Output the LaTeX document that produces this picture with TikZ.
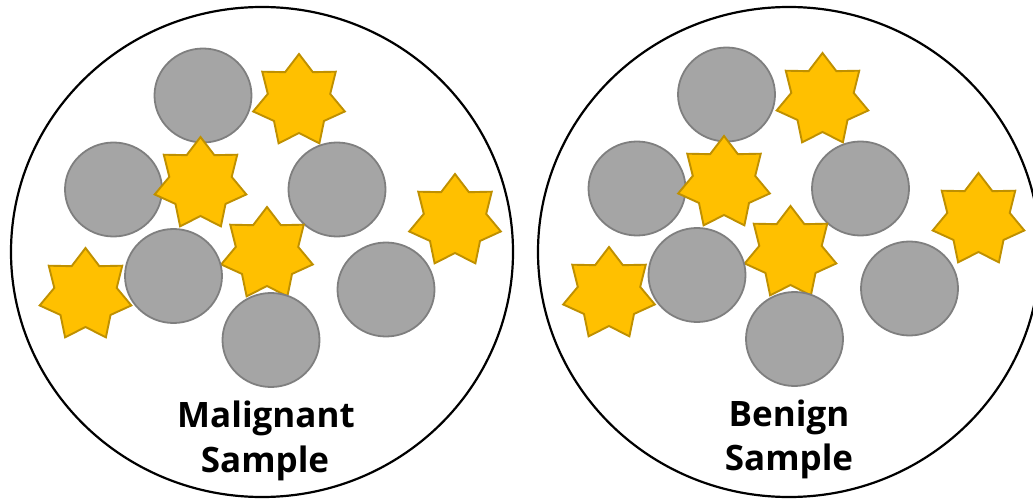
\documentclass[tikz,border=0pt]{standalone}
\usepackage{fontspec}
\newfontfamily\capfont{Open Sans}
\usetikzlibrary{shapes.geometric}

\definecolor{cellgray}{HTML}{A5A5A5}
\definecolor{celledge}{HTML}{7F7F7F}
\definecolor{goldfill}{HTML}{FFC000}
\definecolor{goldedge}{HTML}{BF9000}

\tikzset{
  dish/.style={draw=black, line width=2.2pt, ellipse, minimum width=502pt, minimum height=490pt, inner sep=0pt},
  cell/.style={draw=celledge, fill=cellgray, line width=1.8pt, ellipse, minimum width=97pt, minimum height=94pt, inner sep=0pt},
  spikestyle/.style={draw=goldedge, fill=goldfill, line width=1.9pt, line join=miter},
  pics/heptastar/.style={code={
    \path[spikestyle] plot[samples=14, domain=0:13, variable=\k]
      ({-90+\k*360/14}:{(mod(\k,2)==0) ? 47 : 32}) -- cycle;
  }},
  caption/.style={font=\capfont\bfseries\fontsize{35}{42}\selectfont, anchor=base, inner sep=0pt}
}

% One sample: six cells and five star-shaped particles, named with prefix #1
\newcommand{\samplecontents}[1]{%
  \node[cell] (#1c1) at (203,95.5) {};
  \node[cell] (#1c2) at (113.5,189.5) {};
  \node[cell] (#1c3) at (337,189.5) {};
  \pic (#1sA) at (299,101) {heptastar};
  \pic (#1sB) at (200.5,184) {heptastar};
  \pic (#1sC) at (267,254) {heptastar};
  \pic (#1sD) at (85.5,295) {heptastar};
  \node[cell] (#1c4) at (173.5,276) {};
  \node[cell] (#1c5) at (271,340) {};
  \node[cell] (#1c6) at (386,289.5) {};
  \pic (#1sE) at (455,221) {heptastar};
}

\begin{document}
\begin{tikzpicture}[x=1pt, y=-1pt]
  \useasboundingbox (0,0) rectangle (1033,500);
  \begin{scope}
    \clip (0,0) rectangle (1033,500);

    % left dish
    \node[dish] (dishL) at (262,252) {};
    \samplecontents{L}
    \node[caption] (malig) at (266,427) {Malignant};
    \node[caption] (sampL) at (265,472) {Sample};

    % right dish
    \node[dish] (dishR) at (789,252) {};
    \begin{scope}[shift={(523.5,-1)}]
      \samplecontents{R}
    \end{scope}
    \node[caption] (benign) at (789,426) {Benign};
    \node[caption] (sampR) at (789,470) {Sample};
  \end{scope}
\end{tikzpicture}
\end{document}
